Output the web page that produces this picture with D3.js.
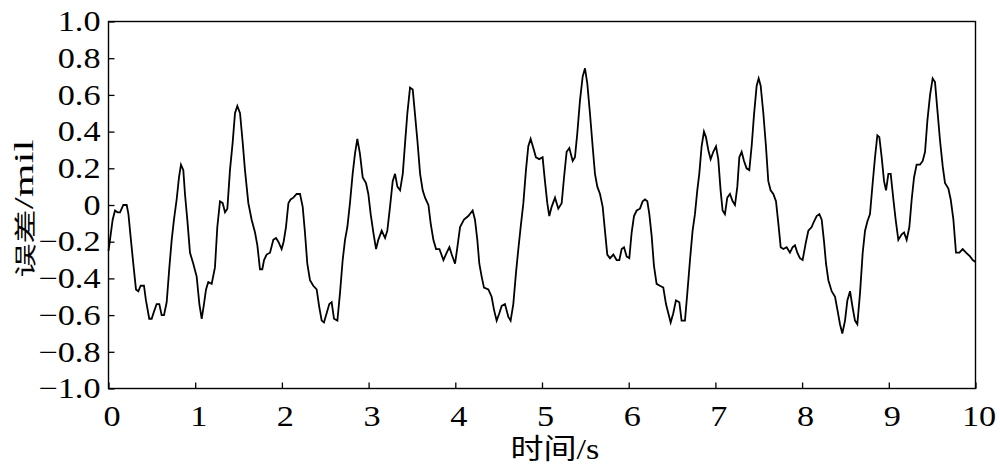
<!DOCTYPE html>
<html>
<head>
<meta charset="utf-8">
<script src="https://cdn.jsdelivr.net/npm/d3@7"></script>
<style>
  html, body { margin: 0; padding: 0; background: #fff; }
  svg { display: block; }
  .tick text { font-family: "Liberation Serif", "Times New Roman", serif; font-size: 29px; fill: #000; }
  .ylab text { transform-box: fill-box; transform-origin: right center; transform: scaleX(1.18); }
  .xlab text { transform-box: fill-box; transform-origin: center center; transform: scaleX(1.18); }
</style>
</head>
<body>
<svg id="chart" width="1000" height="474"></svg>
<script>
// ---- data ----
const timeS = [
0.000,0.017,0.048,0.075,0.105,0.133,0.171,0.210,0.230,0.248,0.286,0.317,0.344,0.371,0.409,0.432,0.470,0.498,0.525,0.555,0.586,0.613,0.640,0.671,0.702,0.729,0.755,0.786,0.813,0.836,0.863,0.882,0.909,0.940,0.978,
1.017,1.048,1.075,1.101,1.125,1.151,1.190,1.228,1.255,1.286,1.317,1.344,1.371,1.401,1.432,1.459,1.486,1.517,1.548,1.574,1.613,1.651,1.690,1.717,1.747,1.774,1.794,1.824,1.863,1.901,1.932,1.959,1.997,
2.020,2.047,2.075,2.100,2.132,2.170,2.209,2.240,2.266,2.293,2.324,2.362,2.401,2.432,2.459,2.485,2.516,2.547,2.574,2.601,2.640,2.670,2.701,2.728,2.755,2.785,2.816,2.843,2.870,2.900,2.932,2.970,2.997,
3.024,3.055,3.086,3.112,3.151,3.190,3.216,3.247,3.278,3.305,3.332,3.363,3.394,3.421,3.447,3.478,3.509,3.536,3.563,3.594,3.624,3.651,3.690,3.716,3.747,3.778,3.817,3.863,3.901,3.932,3.959,3.997,
4.024,4.055,4.100,4.150,4.200,4.227,4.254,4.277,4.304,4.331,4.381,4.419,4.446,4.477,4.508,4.535,4.573,4.612,4.638,4.669,4.700,4.727,4.754,4.785,4.815,4.842,4.869,4.900,4.930,4.969,
5.007,5.034,5.061,5.084,5.111,5.150,5.188,5.227,5.254,5.284,5.315,5.354,5.380,5.407,5.438,5.469,5.496,5.523,5.553,5.584,5.611,5.638,5.669,5.700,5.726,5.753,5.784,5.823,5.861,5.892,5.919,5.946,5.976,
6.007,6.034,6.061,6.092,6.130,6.161,6.188,6.215,6.238,6.265,6.291,6.322,6.360,6.399,6.430,6.457,6.484,6.514,6.545,6.584,6.610,6.649,6.676,6.707,6.737,6.764,6.791,6.814,6.841,6.868,6.891,6.918,6.945,6.976,
7.007,7.033,7.060,7.083,7.110,7.137,7.168,7.199,7.226,7.253,7.276,7.303,7.330,7.360,7.391,7.418,7.445,7.476,7.499,7.522,7.553,7.583,7.610,7.637,7.668,7.699,7.726,7.753,7.783,7.822,7.860,7.891,7.918,7.945,7.975,
8.006,8.045,8.072,8.110,8.137,8.168,8.199,8.226,8.253,8.276,8.303,8.341,8.380,8.407,8.437,8.464,8.495,8.522,8.553,8.583,8.610,8.637,8.668,8.699,8.726,8.753,8.783,8.814,8.841,8.868,8.891,8.918,8.945,8.968,8.995,
9.022,9.053,9.079,9.110,9.149,9.176,9.206,9.237,9.264,9.291,9.321,9.360,9.391,9.418,9.445,9.476,9.506,9.533,9.560,9.591,9.622,9.648,9.687,9.714,9.745,9.775,9.814,9.852,9.891,9.937,9.968,10.000
];
const errorMil = [
-0.25,-0.19,-0.08,-0.03,-0.04,-0.04,0.00,0.00,-0.05,-0.14,-0.32,-0.46,-0.47,-0.44,-0.44,-0.52,-0.62,-0.62,-0.58,-0.54,-0.54,-0.60,-0.60,-0.53,-0.34,-0.19,-0.08,0.03,0.15,0.22,0.19,0.06,-0.08,-0.26,-0.32,
-0.39,-0.54,-0.62,-0.54,-0.46,-0.42,-0.43,-0.34,-0.12,0.02,0.01,-0.04,-0.02,0.19,0.34,0.50,0.54,0.50,0.34,0.19,0.01,-0.08,-0.15,-0.22,-0.35,-0.35,-0.30,-0.27,-0.26,-0.19,-0.18,-0.20,-0.24,
-0.20,-0.12,0.01,0.03,0.04,0.06,0.06,-0.01,-0.15,-0.32,-0.41,-0.44,-0.46,-0.56,-0.63,-0.64,-0.59,-0.54,-0.53,-0.62,-0.63,-0.48,-0.30,-0.19,-0.12,0.01,0.17,0.28,0.36,0.28,0.15,0.12,0.06,
-0.05,-0.15,-0.24,-0.19,-0.14,-0.18,-0.14,-0.01,0.13,0.17,0.10,0.08,0.17,0.34,0.50,0.64,0.63,0.49,0.35,0.17,0.08,0.04,0.00,-0.10,-0.19,-0.24,-0.24,-0.30,-0.26,-0.23,-0.27,-0.32,
-0.23,-0.12,-0.08,-0.06,-0.03,-0.08,-0.19,-0.32,-0.39,-0.45,-0.46,-0.50,-0.57,-0.63,-0.59,-0.55,-0.54,-0.61,-0.63,-0.54,-0.37,-0.24,-0.12,0.01,0.19,0.32,0.36,0.31,0.26,0.25,
0.26,0.13,0.01,-0.06,-0.01,0.04,-0.02,0.01,0.15,0.29,0.31,0.24,0.26,0.39,0.57,0.70,0.745,0.66,0.50,0.32,0.17,0.10,0.06,-0.01,-0.14,-0.27,-0.29,-0.27,-0.30,-0.30,-0.24,-0.23,-0.28,
-0.29,-0.15,-0.06,-0.03,-0.02,0.02,0.03,0.02,-0.05,-0.17,-0.33,-0.43,-0.44,-0.45,-0.54,-0.59,-0.64,-0.59,-0.52,-0.53,-0.63,-0.63,-0.48,-0.30,-0.14,-0.05,0.08,0.17,0.32,0.40,0.37,0.30,0.25,0.29,
0.32,0.25,0.08,-0.03,-0.05,0.04,0.06,0.02,0.00,0.10,0.26,0.29,0.24,0.20,0.19,0.32,0.49,0.65,0.69,0.65,0.50,0.32,0.13,0.08,0.06,0.02,-0.10,-0.23,-0.24,-0.23,-0.26,-0.23,-0.22,-0.26,-0.29,
-0.30,-0.20,-0.14,-0.12,-0.09,-0.06,-0.05,-0.08,-0.20,-0.32,-0.41,-0.47,-0.50,-0.57,-0.65,-0.70,-0.63,-0.52,-0.47,-0.56,-0.63,-0.65,-0.48,-0.26,-0.14,-0.09,-0.05,0.12,0.26,0.38,0.37,0.26,0.13,0.08,0.17,
0.17,0.03,-0.08,-0.19,-0.16,-0.15,-0.19,-0.12,0.03,0.15,0.22,0.22,0.24,0.29,0.46,0.60,0.69,0.67,0.52,0.35,0.21,0.12,0.09,0.03,-0.08,-0.26,-0.26,-0.24,-0.26,-0.28,-0.30,-0.31
];
const xTickValues = [0,1,2,3,4,5,6,7,8,9,10];
const xTickLabels = ["0","1","2","3","4","5","6","7","8","9","10"];
const yTickValues = [1.0,0.8,0.6,0.4,0.2,0,-0.2,-0.4,-0.6,-0.8,-1.0];
const yTickLabels = ["1.0","0.8","0.6","0.4","0.2","0","\u22120.2","\u22120.4","\u22120.6","\u22120.8","\u22121.0"];
const xTitleCJK = "时间", xTitleLatin = "/s";
const yTitleCJK = "误差", yTitleLatin = "/mil";

// ---- layout ----
const L = 108.5, R = 975.5, T = 21.5, B = 388.5;
const svg = d3.select("#chart");
const x = d3.scaleLinear().domain([0, 10]).range([L, R]);
const y = d3.scaleLinear().domain([-1, 1]).range([B, T]);

const data = timeS.map((t, i) => ({ t, v: errorMil[i] }));

// line
svg.append("path")
  .datum(data)
  .attr("fill", "none")
  .attr("stroke", "#000")
  .attr("stroke-width", 1.8)
  .attr("stroke-linejoin", "miter")
  .attr("d", d3.line().x(d => x(d.t)).y(d => y(d.v)).curve(d3.curveLinear));

// axes
const yAxis = d3.axisLeft(y)
  .tickValues(yTickValues)
  .tickFormat((d, i) => yTickLabels[i])
  .tickSizeInner(-6).tickSizeOuter(0).tickPadding(8);
const gy = svg.append("g").attr("class", "ylab").attr("transform", `translate(${L},0)`).call(yAxis);
gy.select(".domain").remove();
gy.selectAll(".tick line").attr("stroke", "#000").attr("stroke-width", 1.3);

const xAxis = d3.axisBottom(x)
  .tickValues(xTickValues)
  .tickFormat((d, i) => xTickLabels[i])
  .tickSizeInner(-6).tickSizeOuter(0).tickPadding(17);
const gx = svg.append("g").attr("class", "xlab").attr("transform", `translate(0,${B})`).call(xAxis);
gx.select(".domain").remove();
gx.selectAll(".tick line").attr("stroke", "#000").attr("stroke-width", 1.3);
gx.selectAll(".tick text").attr("dx", 3);

// frame
svg.append("rect")
  .attr("x", L).attr("y", T).attr("width", R - L).attr("height", B - T)
  .attr("fill", "none").attr("stroke", "#000").attr("stroke-width", 1.4);

// x title
const xt = svg.append("text")
  .attr("x", 555).attr("y", 459)
  .attr("text-anchor", "middle")
  .style("transform-box", "fill-box").style("transform-origin", "center center").style("transform", "scaleX(1.18)")
  .attr("fill", "#000");
xt.append("tspan").attr("font-family", "'Noto Sans CJK SC', sans-serif").attr("font-size", 28).text(xTitleCJK);
xt.append("tspan").attr("font-family", "'Liberation Serif', serif").attr("font-size", 29).text(xTitleLatin);

// y title
const yt = svg.append("text")
  .attr("transform", "translate(33,208.5) rotate(-90) scale(1.55,1)")
  .attr("text-anchor", "middle")
  .attr("fill", "#000");
yt.append("tspan").attr("font-family", "'Noto Sans CJK SC', sans-serif").attr("font-size", 22).text(yTitleCJK);
yt.append("tspan").attr("font-family", "'Liberation Serif', serif").attr("font-size", 28).text(yTitleLatin);
</script>
</body>
</html>
